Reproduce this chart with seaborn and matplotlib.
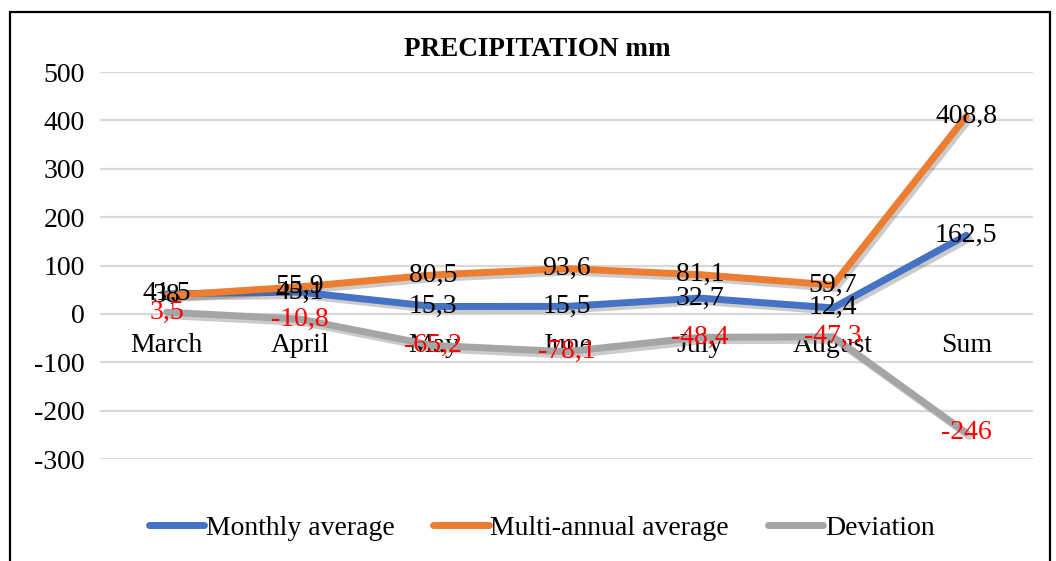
import matplotlib
matplotlib.use('Agg')
import matplotlib.pyplot as plt
import matplotlib.patheffects as pe
import numpy as np
import pandas as pd
import seaborn as sns

# Chart data
months = ['March', 'April', 'May', 'June', 'July', 'August', 'Sum']
monthly_avg = [41.5, 45.1, 15.3, 15.5, 32.7, 12.4, 162.5]
multi_annual_avg = [38, 55.9, 80.5, 93.6, 81.1, 59.7, 408.8]
deviation = [3.5, -10.8, -65.2, -78.1, -48.4, -47.3, -246]
series_names = ['Monthly average', 'Multi-annual average', 'Deviation']
series_colors = ['#4472C4', '#ED7D31', '#A5A5A5']
label_colors = ['black', 'black', '#FF0000']
y_ticks = [-300, -200, -100, 0, 100, 200, 300, 400, 500]

df = pd.DataFrame({
    'month': months * 3,
    'value': monthly_avg + multi_annual_avg + deviation,
    'series': [s for s in series_names for _ in months],
})

sns.set_style('white')
plt.rcParams['font.family'] = ['Liberation Serif', 'DejaVu Serif']
plt.rcParams['axes.unicode_minus'] = False
plt.rcParams['text.color'] = 'black'
plt.rcParams['xtick.color'] = 'black'
plt.rcParams['ytick.color'] = 'black'

fig = plt.figure(figsize=(10.56, 5.61), dpi=100)
ax = fig.add_axes([0.0947, 0.1818, 0.8835, 0.6898])

sns.lineplot(data=df, x='month', y='value', hue='series', hue_order=series_names,
             palette=series_colors, linewidth=5, sort=False, ax=ax, legend=True)

for line in ax.lines:
    line.set_solid_capstyle('round')
    line.set_path_effects([pe.SimpleLineShadow(offset=(2, -2.5), alpha=0.3, shadow_color='#555555'),
                           pe.Normal()])

# data labels
for vals, col in zip([monthly_avg, multi_annual_avg, deviation], label_colors):
    for i, v in enumerate(vals):
        ax.text(i, v, f"{v:g}".replace('.', ','), ha='center', va='center',
                fontsize=20, color=col, zorder=5)

ax.set_ylim(-300, 500)
ax.set_xlim(-0.5, len(months) - 0.5)
ax.set_yticks(y_ticks)
ax.yaxis.grid(True, color='#D9D9D9', linewidth=1.6)
ax.set_axisbelow(True)
for s in ax.spines.values():
    s.set_visible(False)
ax.spines['bottom'].set_position(('data', 0))
ax.tick_params(axis='both', length=0, labelsize=20)
ax.tick_params(axis='y', pad=11)
ax.tick_params(axis='x', pad=14)
ax.set_xlabel('')
ax.set_ylabel('')

fig.text(537 / 1056, 1 - 50 / 561, 'PRECIPITATION mm', fontsize=19.5, fontweight='bold',
         ha='center', va='center')

handles, labels = ax.get_legend_handles_labels()
ax.get_legend().remove()
leg = fig.legend(handles, labels, loc='center', bbox_to_anchor=(0.513, 0.059), ncol=3,
                 frameon=False, fontsize=20, handlelength=2.0, handletextpad=0.05,
                 columnspacing=1.4)
for h in leg.get_lines():
    h.set_linewidth(5)
    h.set_solid_capstyle('round')
    h.set_path_effects([pe.Normal()])

# outer chart border
fig.patches.append(plt.Rectangle((10 / 1056, -0.02), 1040 / 1056, 1 - 12 / 561 + 0.02,
                                 transform=fig.transFigure, fill=False,
                                 edgecolor='black', linewidth=1.6))

fig.savefig('out.png', dpi=100)
